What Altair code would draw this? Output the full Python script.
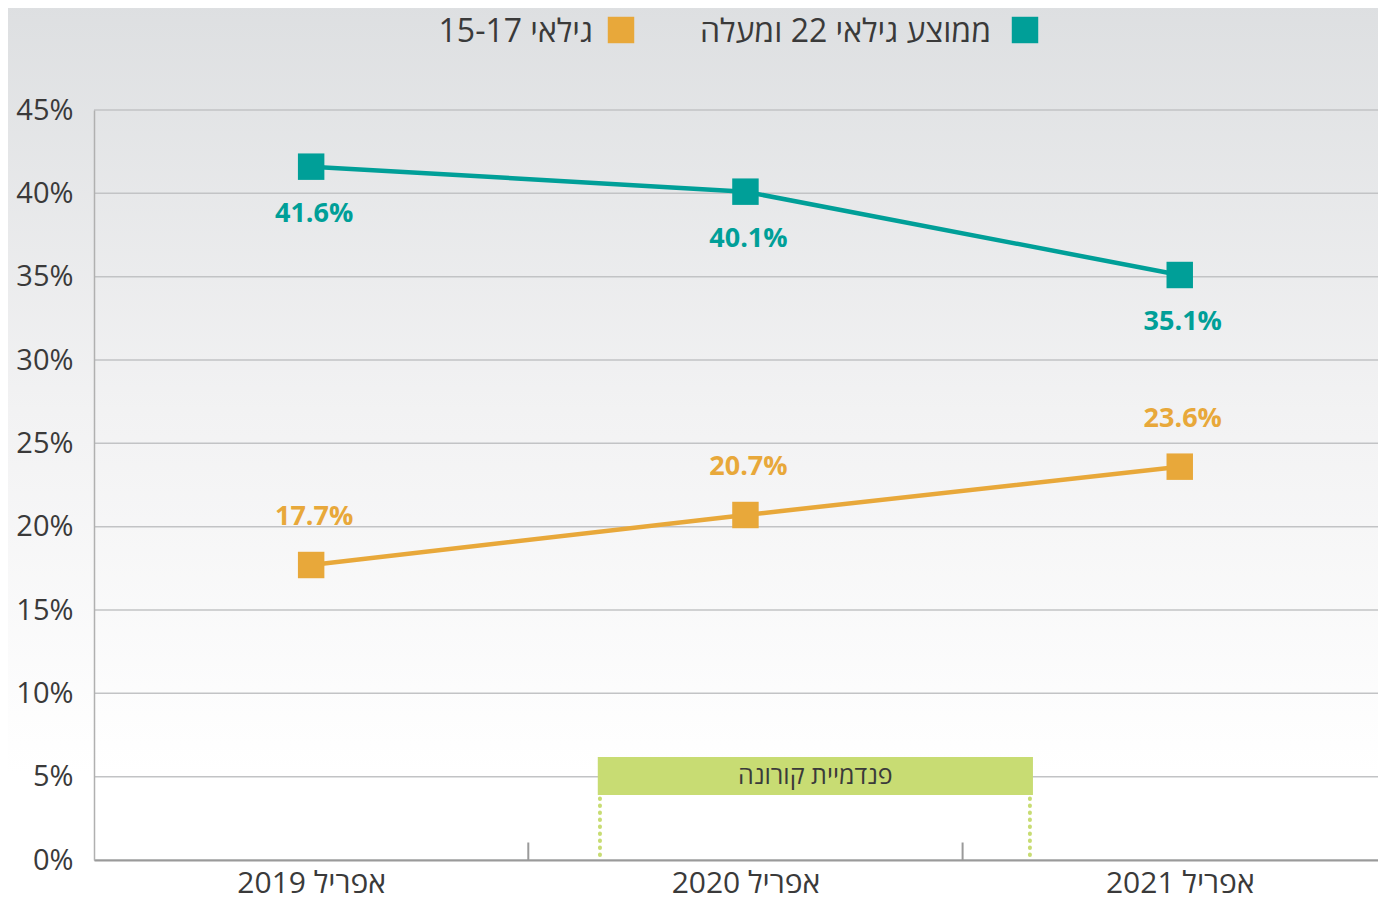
import altair as alt
import pandas as pd

# ---------------- data ----------------
periods = ["אפריל 2019", "אפריל 2020", "אפריל 2021"]
series_names = ["ממוצע גילאי 22 ומעלה", "גילאי 15-17"]
adult_values = [41.6, 40.1, 35.1]
youth_values = [17.7, 20.7, 23.6]
series_colors = ["#009f98", "#e8a83a"]
y_ticks = [0, 5, 10, 15, 20, 25, 30, 35, 40, 45]
band_bounds = [1, 2]
pandemic_label = "פנדמיית קורונה"
pandemic_start = 1.16
pandemic_end = 2.162
pandemic_low = 3.9
pandemic_high = 6.18


def rtl(s):
    return "\u202b" + s + "\u202c"


W, H = 1284, 750
XMAX = 2.9565
FONT = "Open Sans"
TEXT = "#3a3a3a"

rows = []
for name, vals in zip(series_names, [adult_values, youth_values]):
    for i, v in enumerate(vals):
        rows.append({"pos": i + 0.5, "value": v, "series": name, "label": f"{v}%"})
df = pd.DataFrame(rows)

x_scale = alt.Scale(domain=[0, XMAX], nice=False, zero=False)
y_scale = alt.Scale(domain=[0, 45], nice=False)
labels_js = "[" + ",".join("'" + rtl(p) + "'" for p in periods) + "]"
x_axis = alt.Axis(
    values=[0.5, 1.5, 2.5], labelExpr=labels_js + "[floor(datum.value)]",
    ticks=False, tickSize=0, grid=False, title=None, labelFont=FONT, labelFontSize=30,
    labelColor=TEXT, labelPadding=8, domainColor="#9a9a9a", domainWidth=2, zindex=1,
)
y_axis = alt.Axis(
    values=y_ticks, labelExpr="datum.value + '%'", ticks=False, tickSize=0, grid=False,
    title=None, labelFont=FONT, labelFontSize=29, labelColor=TEXT, labelPadding=21,
    domainColor="#b0b0b0", domainWidth=1.5, zindex=1,
)
color_scale = alt.Scale(domain=series_names, range=series_colors)

one = pd.DataFrame({"k": [0]})

bg = alt.Chart(one).mark_rect(
    fill=alt.Gradient(
        gradient="linear", x1=0, x2=0, y1=0, y2=1,
        stops=[alt.GradientStop(offset=0, color="#dddfe1"),
               alt.GradientStop(offset=0.45, color="#f2f2f3"),
               alt.GradientStop(offset=0.85, color="#ffffff"),
               alt.GradientStop(offset=1, color="#ffffff")],
    )
).encode(x=alt.value(-90), x2=alt.value(W + 10), y=alt.value(-110), y2=alt.value(H + 50))

grid = alt.Chart(pd.DataFrame({"t": y_ticks})).mark_rule(color="#c2c3c5", strokeWidth=1.5).encode(
    y=alt.Y("t:Q", scale=y_scale, axis=y_axis), x=alt.value(0), x2=alt.value(W)
)

bticks = alt.Chart(pd.DataFrame({"b": band_bounds, "y0": [0, 0], "y1": [1.05, 1.05]})).mark_rule(
    color="#9a9a9a", strokeWidth=2
).encode(x=alt.X("b:Q", scale=x_scale, axis=x_axis), y=alt.Y("y0:Q", scale=y_scale, axis=y_axis), y2="y1:Q")

pdf = pd.DataFrame({"x0": [pandemic_start], "x1": [pandemic_end], "y0": [pandemic_low],
                    "y1": [pandemic_high], "xm": [(pandemic_start + pandemic_end) / 2],
                    "ym": [(pandemic_low + pandemic_high) / 2], "txt": [rtl(pandemic_label)]})
pbox = alt.Chart(pdf).mark_rect(color="#c8dc73").encode(
    x=alt.X("x0:Q", scale=x_scale, axis=x_axis), x2="x1:Q",
    y=alt.Y("y0:Q", scale=y_scale, axis=y_axis), y2="y1:Q"
)
ptext = alt.Chart(pdf).mark_text(font=FONT, fontSize=25, color=TEXT, baseline="middle").encode(
    x=alt.X("xm:Q", scale=x_scale, axis=x_axis), y=alt.Y("ym:Q", scale=y_scale, axis=y_axis), text="txt:N"
)
dots = alt.Chart(pd.DataFrame({"xd": [pandemic_start + 0.005, pandemic_end - 0.007],
                               "ya": [0.3, 0.3], "yb": [pandemic_low - 0.1] * 2})).mark_rule(
    color="#c8dc73", strokeWidth=4, strokeDash=[0.5, 6.5], strokeCap="round"
).encode(x=alt.X("xd:Q", scale=x_scale, axis=x_axis), y=alt.Y("ya:Q", scale=y_scale, axis=y_axis), y2="yb:Q")

base = alt.Chart(df).encode(
    x=alt.X("pos:Q", scale=x_scale, axis=x_axis),
    y=alt.Y("value:Q", scale=y_scale, axis=y_axis),
    color=alt.Color("series:N", scale=color_scale, legend=None),
)
lines = base.mark_line(strokeWidth=4.5)
squares = base.mark_square(size=700, opacity=1)
lab_adult = base.transform_filter(alt.datum.series == series_names[0]).mark_text(
    font=FONT, fontSize=27, fontWeight="bold", dy=47, dx=3, baseline="middle"
).encode(text="label:N")
lab_youth = base.transform_filter(alt.datum.series == series_names[1]).mark_text(
    font=FONT, fontSize=27, fontWeight="bold", dy=-48, dx=3, baseline="middle"
).encode(text="label:N")

# custom RTL legend (symbol to the right of its text)
legend_layers = []
for name, col, sq_x, tx_x in zip(series_names, series_colors, [931, 527], [897, 499]):
    ldf = pd.DataFrame({"txt": [rtl(name)]})
    legend_layers.append(
        alt.Chart(ldf).mark_square(size=700, opacity=1, color=col).encode(
            x=alt.value(sq_x), y=alt.value(-80))
    )
    legend_layers.append(
        alt.Chart(ldf).mark_text(font=FONT, fontSize=32, color=TEXT, align="right",
                                 baseline="middle").encode(
            x=alt.value(tx_x), y=alt.value(-78), text="txt:N")
    )

chart = alt.layer(
    bg, grid, bticks, pbox, ptext, dots, lines, squares, lab_adult, lab_youth, *legend_layers
).properties(
    width=W, height=H,
    autosize=alt.AutoSizeParams(type="none"),
    padding={"left": 86, "top": 102, "right": 0, "bottom": 44},
).configure_view(stroke=None).configure(background="#ffffff")

chart.save("out.html", embed_options={"renderer": "svg", "actions": False})
